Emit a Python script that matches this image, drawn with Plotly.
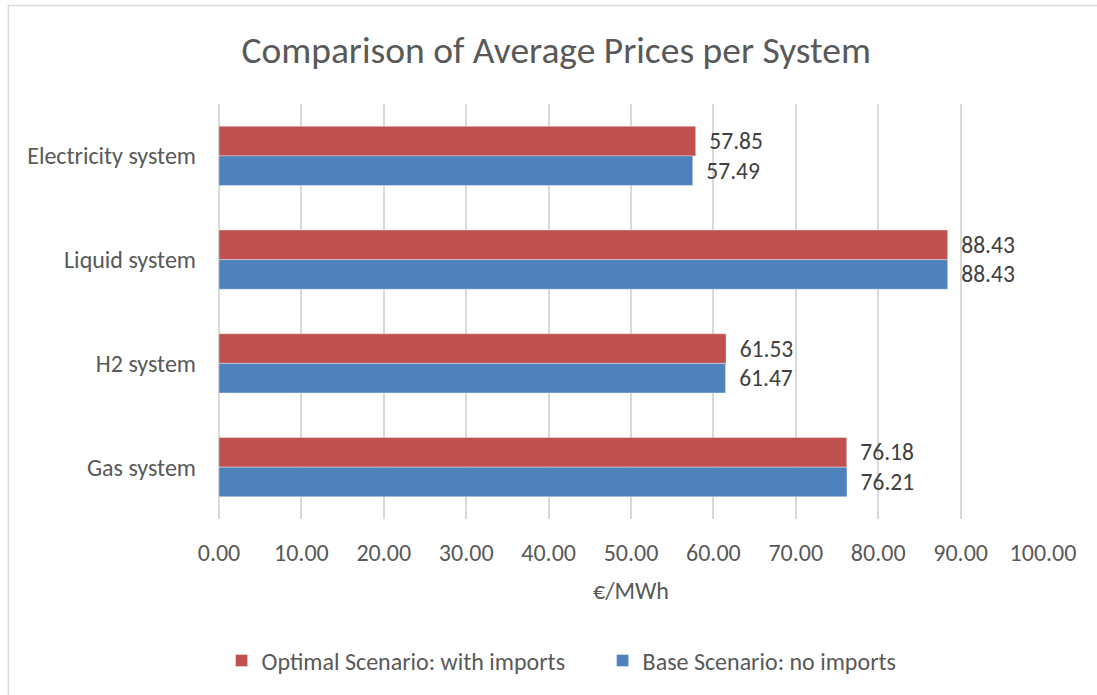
import plotly.graph_objects as go

# Average price per energy system (€/MWh)
systems = ["Electricity system", "Liquid system", "H2 system", "Gas system"]
optimal_with_imports = [57.85, 88.43, 61.53, 76.18]
base_no_imports = [57.49, 88.43, 61.47, 76.21]
series_names = ["Optimal Scenario: with imports", "Base Scenario: no imports"]
x_ticks = [0, 10, 20, 30, 40, 50, 60, 70, 80, 90, 100]

FONT = "Carlito, Lato, sans-serif"
RED = "#C0504D"
BLUE = "#4F81BD"
TEXT = "#595959"
LABEL = "#404040"
GRID = "#D9D9D9"

fig = go.Figure()
for name, values, color in [
    (series_names[0], optimal_with_imports, RED),
    (series_names[1], base_no_imports, BLUE),
]:
    fig.add_trace(go.Bar(
        y=systems,
        x=values,
        name=name,
        orientation="h",
        marker=dict(color=color, line=dict(color="rgba(255,255,255,0.35)", width=1)),
        texttemplate="\u00a0\u00a0%{x:.2f}",
        textposition="outside",
        constraintext="none",
        cliponaxis=False,
        textfont=dict(family=FONT, size=23.5, color=LABEL),
    ))

fig.update_layout(
    width=1097,
    height=695,
    margin=dict(l=219, r=54, t=104, b=176),
    paper_bgcolor="white",
    plot_bgcolor="white",
    barmode="group",
    bargap=0.43,
    bargroupgap=0,
    font=dict(family=FONT, color=TEXT),
    title=dict(
        text="Comparison of Average Prices per System",
        x=0.507, xref="container", xanchor="center",
        y=0.928, yref="container", yanchor="middle",
        font=dict(family=FONT, size=37.5, color=TEXT),
    ),
    showlegend=True,
    legend=dict(
        orientation="h",
        x=0.202, xref="container", xanchor="left",
        y=0.049, yref="container", yanchor="middle",
        font=dict(family=FONT, size=24, color=TEXT),
        traceorder="normal",
        itemwidth=30,
        entrywidth=336,
        entrywidthmode="pixels",
    ),
    xaxis=dict(
        range=[0, 100],
        tickvals=x_ticks,
        tickformat=".2f",
        showgrid=True,
        gridcolor=GRID,
        gridwidth=1.5,
        zeroline=True,
        zerolinecolor=GRID,
        zerolinewidth=1.5,
        showline=False,
        ticks="",
        ticklabelstandoff=17,
        tickfont=dict(family=FONT, size=24, color=TEXT),
        title=dict(text="€/MWh", standoff=16, font=dict(family=FONT, size=24, color=TEXT)),
    ),
    yaxis=dict(
        autorange="reversed",
        showgrid=False,
        showline=False,
        ticks="",
        ticklabelstandoff=22,
        tickfont=dict(family=FONT, size=24, color=TEXT),
    ),
    shapes=[dict(
        type="rect", xref="paper", yref="paper",
        x0=-0.2555, x1=1.081, y0=-0.46, y1=1.2373,
        line=dict(color=GRID, width=1.5),
        fillcolor="rgba(0,0,0,0)",
        layer="below",
    )],
)

fig.write_html("out.html")
